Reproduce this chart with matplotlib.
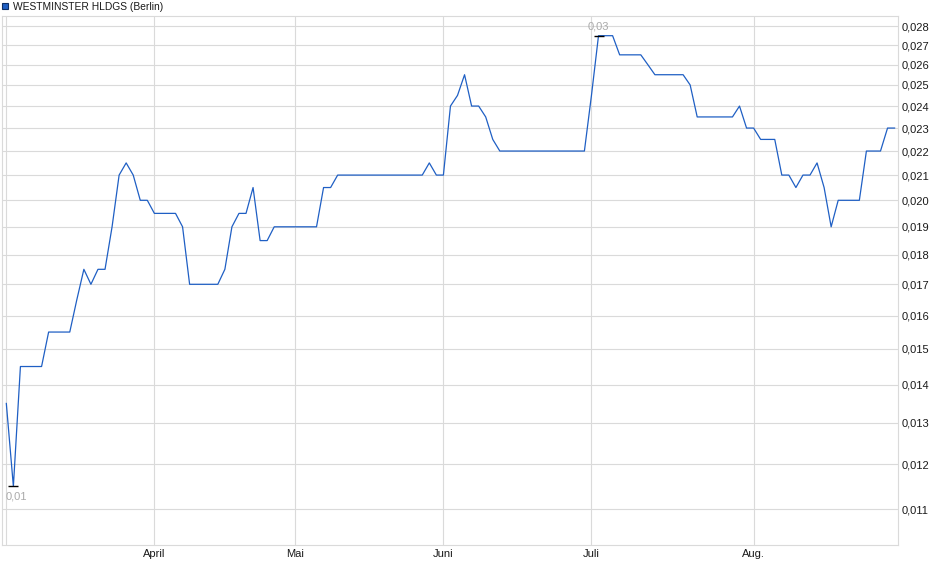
import matplotlib
matplotlib.use("Agg")
import matplotlib.pyplot as plt
import pandas as pd
from matplotlib.lines import Line2D
from matplotlib.ticker import FixedLocator, FixedFormatter, NullLocator

# ---------------------------------------------------------------------------
# DATA  (Berlin trading days, 03.03.2025 - 29.08.2025)
# ---------------------------------------------------------------------------
SERIES_NAME = "WESTMINSTER HLDGS (Berlin)"
HOLIDAYS = ["2025-04-18", "2025-04-21", "2025-05-01"]
dates = pd.bdate_range("2025-03-03", "2025-08-29", freq="C", holidays=HOLIDAYS)

prices = [
    0.0135, 0.0115, 0.0145, 0.0145, 0.0145, 0.0145, 0.0155, 0.0155, 0.0155, 0.0155,
    0.0165, 0.0175, 0.0170, 0.0175, 0.0175, 0.0190, 0.0210, 0.0215, 0.0210, 0.0200,
    0.0200, 0.0195, 0.0195, 0.0195, 0.0195, 0.0190, 0.0170, 0.0170, 0.0170, 0.0170,
    0.0170, 0.0175, 0.0190, 0.0195, 0.0195, 0.0205, 0.0185, 0.0185, 0.0190, 0.0190,
    0.0190, 0.0190, 0.0190, 0.0190, 0.0190, 0.0205, 0.0205, 0.0210, 0.0210, 0.0210,
    0.0210, 0.0210, 0.0210, 0.0210, 0.0210, 0.0210, 0.0210, 0.0210, 0.0210, 0.0210,
    0.0215, 0.0210, 0.0210, 0.0240, 0.0245, 0.0255, 0.0240, 0.0240, 0.0235, 0.0225,
    0.0220, 0.0220, 0.0220, 0.0220, 0.0220, 0.0220, 0.0220, 0.0220, 0.0220, 0.0220,
    0.0220, 0.0220, 0.0220, 0.0245, 0.0275, 0.0275, 0.0275, 0.0265, 0.0265, 0.0265,
    0.0265, 0.0260, 0.0255, 0.0255, 0.0255, 0.0255, 0.0255, 0.0250, 0.0235, 0.0235,
    0.0235, 0.0235, 0.0235, 0.0235, 0.0240, 0.0230, 0.0230, 0.0225, 0.0225, 0.0225,
    0.0210, 0.0210, 0.0205, 0.0210, 0.0210, 0.0215, 0.0205, 0.0190, 0.0200, 0.0200,
    0.0200, 0.0200, 0.0220, 0.0220, 0.0220, 0.0230, 0.0230,
]

month_labels = {3: "", 4: "April", 5: "Mai", 6: "Juni", 7: "Juli", 8: "Aug."}
y_ticks = [0.011, 0.012, 0.013, 0.014, 0.015, 0.016, 0.017, 0.018, 0.019,
           0.020, 0.021, 0.022, 0.023, 0.024, 0.025, 0.026, 0.027, 0.028]
y_limits = (0.01026, 0.02855)

# ---------------------------------------------------------------------------
# STYLE
# ---------------------------------------------------------------------------
LINE_COLOR = "#1f5fc4"
GRID_COLOR = "#dadada"
TEXT_COLOR = "#1a1a1a"
EXTREME_COLOR = "#aaaaaa"

plt.rcParams["font.family"] = ["Liberation Sans", "DejaVu Sans"]
plt.rcParams["font.size"] = 8

x = list(range(len(prices)))

# first trading day of each month -> x tick
tick_pos, tick_lab = [], []
for i, d in enumerate(dates):
    if i == 0 or d.month != dates[i - 1].month:
        tick_pos.append(i)
        tick_lab.append(month_labels[d.month])

fig = plt.figure(figsize=(9.4, 5.79), dpi=100)
ax = fig.add_axes([0.00245, 0.0582, 0.95315, 0.9136])

ax.plot(x, prices, color=LINE_COLOR, linewidth=0.9, zorder=3)

ax.set_yscale("log")
ax.set_ylim(*y_limits)
ax.set_xlim(-0.57, len(prices) - 1 + 0.52)

ax.yaxis.set_major_locator(FixedLocator(y_ticks))
ax.yaxis.set_major_formatter(FixedFormatter([f"{v:.3f}".replace(".", ",") for v in y_ticks]))
ax.yaxis.set_minor_locator(NullLocator())
ax.yaxis.tick_right()
ax.set_xticks(tick_pos)
ax.set_xticklabels(tick_lab)

ax.tick_params(axis="both", length=0, colors=TEXT_COLOR, labelsize=8)
ax.tick_params(axis="y", pad=2.5)
ax.tick_params(axis="x", pad=3)
ax.grid(True, color=GRID_COLOR, linewidth=0.8, zorder=0)
for sp in ax.spines.values():
    sp.set_color(GRID_COLOR)
    sp.set_linewidth(0.8)

# min / max markers
i_min = prices.index(min(prices))
i_max = prices.index(max(prices))
ax.plot([i_min], [prices[i_min]], marker="_", color="black", markersize=6.5,
        markeredgewidth=1.0, zorder=4)
ax.plot([i_max], [prices[i_max]], marker="_", color="black", markersize=6.5,
        markeredgewidth=1.0, zorder=4)
ax.annotate(f"{prices[i_min]:.2f}".replace(".", ","), (i_min, prices[i_min]),
            xytext=(2, -7), textcoords="offset points", ha="center", va="center",
            color=EXTREME_COLOR, fontsize=8)
ax.annotate(f"{prices[i_max]:.2f}".replace(".", ","), (i_max, prices[i_max]),
            xytext=(0, 6.8), textcoords="offset points", ha="center", va="center",
            color=EXTREME_COLOR, fontsize=8)

# legend
handle = Line2D([], [], linestyle="", marker="s", markersize=5.0,
                markerfacecolor="#1f5fc4", markeredgecolor="#0d2f66", markeredgewidth=0.8)
fig.legend([handle], [SERIES_NAME], loc="upper left", bbox_to_anchor=(0.0, 1.0),
           frameon=False, borderaxespad=0.0, borderpad=0.2, handlelength=0.6,
           handletextpad=0.5, fontsize=7.4, labelcolor=TEXT_COLOR)

fig.savefig("out.png", dpi=100)
